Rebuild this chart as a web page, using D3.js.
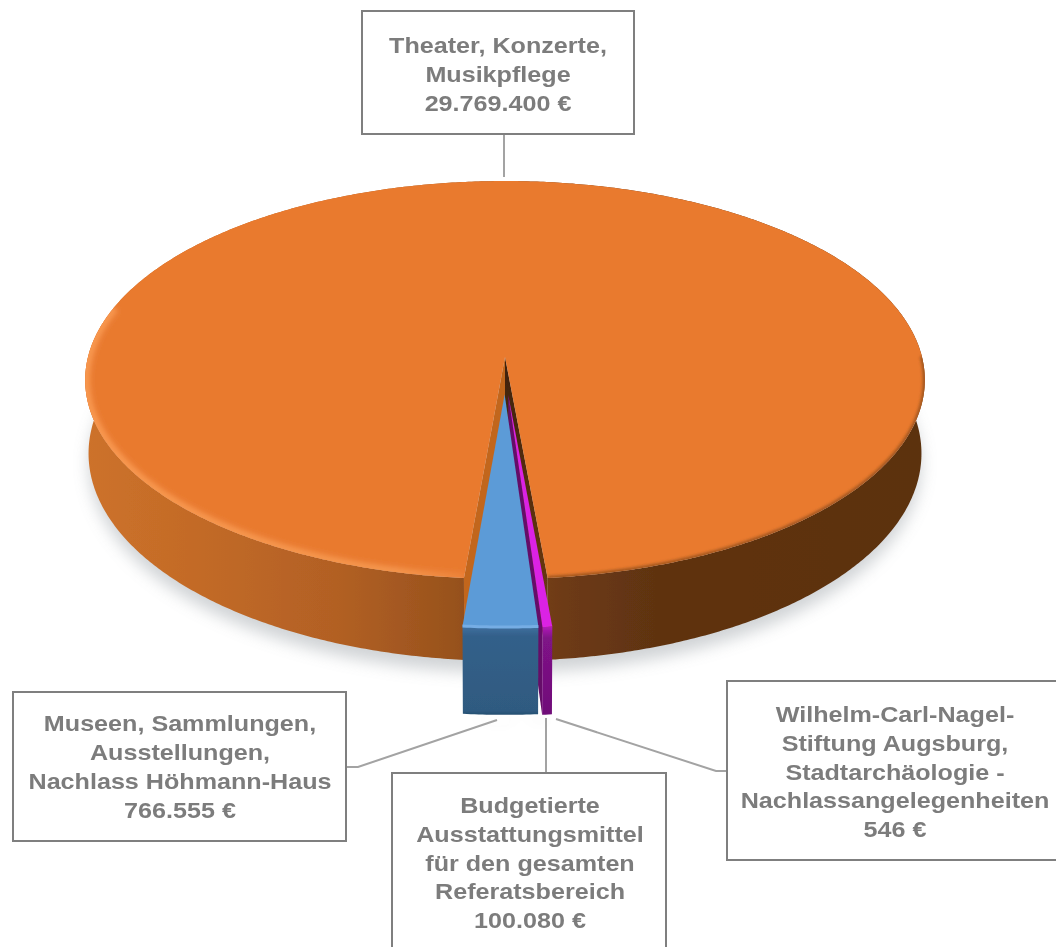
<!DOCTYPE html>
<html>
<head>
<meta charset="utf-8">
<script src="https://cdn.jsdelivr.net/npm/d3@7"></script>
<style>
html, body { margin: 0; padding: 0; background: #fff; overflow: hidden; }
text { font-family: "Liberation Sans", Arial, sans-serif; font-weight: bold; fill: #7c7c7c; }
</style>
</head>
<body>
<div id="chart-area"></div>
<script>
// slice order is clockwise, starting at the orange one
var categories = ['Theater', 'Wilhelm', 'Budget', 'Museen'];
var values = [29769400, 546, 100080, 766555];
var textTheater = ['Theater, Konzerte,', 'Musikpflege'];
var textWilhelm = ['Wilhelm-Carl-Nagel-', 'Stiftung Augsburg,', 'Stadtarchäologie -', 'Nachlassangelegenheiten'];
var textBudget = ['Budgetierte', 'Ausstattungsmittel', 'für den gesamten', 'Referatsbereich'];
var textMuseen = ['Museen, Sammlungen,', 'Ausstellungen,', 'Nachlass Höhmann-Haus'];

var def = {
    width: 1056,
    height: 947,
    cx: 505,
    cy: 357,
    R: 417,
    A: 196.3,
    k: 0.1155,      // perspective
    shrink: 0.008,  // underside is a bit narrower than the top
    depth: 72.5,
    start: 185,     // degrees, clockwise from the back of the pie
    textScale: 1.17,
    fontSize: 21.5
};

var svg = d3.select('#chart-area').append('svg')
    .attr('width', def.width)
    .attr('height', def.height)
    .style('display', 'block');
var defs = svg.append('defs');

function blur(id, sd) {
    defs.append('filter').attr('id', id)
        .attr('x', '-20%').attr('y', '-20%').attr('width', '140%').attr('height', '140%')
        .append('feGaussianBlur').attr('stdDeviation', sd);
}
blur('soft', 0.6);
blur('edge', 1.5);
blur('rim', 2.5);
blur('shadow', 8);
// straight lines and text need a filter region that does not depend on their own box
defs.append('filter').attr('id', 'ink')
    .attr('filterUnits', 'userSpaceOnUse')
    .attr('x', 0).attr('y', 0).attr('width', def.width).attr('height', def.height)
    .append('feGaussianBlur').attr('stdDeviation', 0.45);

function gradient(id, x1, y1, x2, y2, stops) {
    var g = defs.append('linearGradient').attr('id', id)
        .attr('gradientUnits', 'userSpaceOnUse')
        .attr('x1', x1).attr('y1', y1).attr('x2', x2).attr('y2', y2);
    stops.forEach(function (s) {
        g.append('stop').attr('offset', s[0]).attr('stop-color', s[1]).attr('stop-opacity', s[2] === undefined ? 1 : s[2]);
    });
}
gradient('wallOrange', 85, 0, 925, 0, [
    [0, '#cd722a'], [0.14, '#c26a27'], [0.3, '#b26024'], [0.44, '#98521d'], [0.56, '#6f3b14'], [0.68, '#5f3311'], [1, '#5c3110']
]);
gradient('wallBlue', 0, 627, 0, 718, [
    [0, '#3f6f9e'], [0.1, '#33608a'], [0.92, '#2f5a80'], [1, '#1c4463']
]);
gradient('wallPurple', 0, 627, 0, 718, [
    [0, '#b01cb8'], [0.12, '#7f1287'], [1, '#6f0f78']
]);
gradient('cutRight', 0, 360, 0, 600, [
    [0, '#3f220a'], [1, '#6a3812']
]);
gradient('bevel', 85, 0, 500, 0, [
    [0, '#f8974f'], [0.75, '#f5974f', 0.9], [1, '#f5974f', 0]
]);

var rad = Math.PI / 180;

// turn a pie angle + radius into screen coordinates, z = 1 is the underside
function project(a, r, o, z) {
    var u = o.u + r * Math.sin(a);
    var v = o.v - r * Math.cos(a);
    var s = 1 / (1 - def.k * v);
    return [def.cx + def.R * u * s * (1 - def.shrink * z), def.cy + def.A * v * s + def.depth * z * s];
}

function sweep(a0, a1, o, z) {
    var n = Math.max(2, Math.ceil(Math.abs(a1 - a0) / (0.5 * rad)));
    return d3.range(n + 1).map(function (i) {
        return project(a0 + (a1 - a0) * i / n, 1, o, z);
    });
}

var line = d3.line();
function closed(pts) { return line(pts) + 'Z'; }

var pie = d3.pie()
    .sort(null)
    .startAngle(def.start * rad)
    .endAngle((def.start + 360) * rad);
var slices = pie(values);

// how far each slice is pulled out towards the viewer, and how deep its wall looks
var explode = [0, 0.19, 0.19, 0.187];
var wallZ = [1, 1, 1.045, 1.045];

slices.forEach(function (d, i) {
    var mid = (d.startAngle + d.endAngle) / 2;
    var z = wallZ[i];
    d.o = { u: explode[i] * Math.sin(mid) * 0.5, v: -explode[i] * Math.cos(mid) };
    d.top = closed([project(0, 0, d.o, 0)].concat(sweep(d.startAngle, d.endAngle, d.o, 0)));
    d.wall = closed(sweep(d.startAngle, d.endAngle, d.o, 0).concat(sweep(d.endAngle, d.startAngle, d.o, z)));
    d.cutStart = closed([project(0, 0, d.o, 0), project(d.startAngle, 1, d.o, 0), project(d.startAngle, 1, d.o, z), project(0, 0, d.o, z)]);
    d.cutEnd = closed([project(0, 0, d.o, 0), project(d.endAngle, 1, d.o, 0), project(d.endAngle, 1, d.o, z), project(0, 0, d.o, z)]);
});

var orange = slices[0], purple = slices[2], blue = slices[3];

// ground shadow
var ground = svg.append('g').attr('filter', 'url(#shadow)').attr('opacity', 0.42);
ground.append('path').attr('d', closed(sweep(0, 2 * Math.PI, orange.o, 1.14))).attr('fill', '#8f969c');
ground.append('path').attr('d', closed(sweep(blue.startAngle, blue.endAngle, blue.o, 1.1).concat(sweep(purple.endAngle, purple.startAngle, purple.o, 1.1)))).attr('fill', '#7f868c');

var pieG = svg.append('g').attr('filter', 'url(#soft)');

// orange body
pieG.append('path').attr('d', orange.cutStart).attr('fill', '#c2661f');
pieG.append('path').attr('d', orange.cutEnd).attr('fill', 'url(#cutRight)');
pieG.append('path').attr('d', orange.wall).attr('fill', 'url(#wallOrange)');
pieG.append('path').attr('d', orange.top).attr('fill', '#e97a2f');

// edges of the top face, kept inside it by the clip
defs.append('clipPath').attr('id', 'topClip').append('path').attr('d', orange.top);
var rimG = pieG.append('g').attr('clip-path', 'url(#topClip)');

// blurred seam on the dark side
rimG.append('path')
    .attr('d', line(sweep(orange.endAngle - 85 * rad, orange.endAngle, orange.o, 0)))
    .attr('fill', 'none')
    .attr('stroke', '#8a4a1a')
    .attr('stroke-width', 4)
    .attr('stroke-opacity', 0.8)
    .attr('filter', 'url(#edge)');

// lit bevel on the left and front
rimG.append('path')
    .attr('d', line(sweep(orange.startAngle, orange.startAngle + 100 * rad, orange.o, 0)))
    .attr('fill', 'none')
    .attr('stroke', 'url(#bevel)')
    .attr('stroke-width', 10)
    .attr('filter', 'url(#rim)');

// purple goes first, the blue top hides the lower part of its cut face
pieG.append('path').attr('d', purple.cutEnd).attr('fill', '#651068');
pieG.append('path').attr('d', purple.wall).attr('fill', 'url(#wallPurple)');
pieG.append('path').attr('d', purple.top).attr('fill', '#db22e4');

pieG.append('path').attr('d', blue.wall).attr('fill', 'url(#wallBlue)');
pieG.append('path').attr('d', blue.top).attr('fill', '#5b9bd7');
pieG.append('path')
    .attr('d', line(sweep(blue.startAngle, blue.endAngle, blue.o, 0)))
    .attr('fill', 'none')
    .attr('stroke', '#76ade4')
    .attr('stroke-width', 3);

// leaders
var fmt = d3.formatLocale({ decimal: ',', thousands: '.', grouping: [3], currency: ['', ' €'] }).format(',d');
function euro(v) { return fmt(v) + ' €'; }

var ink = svg.append('g').attr('filter', 'url(#ink)');

var leaders = [
    [[504, 134], [504, 177]],
    [[346, 767], [358, 767], [497, 720]],
    [[546, 718], [546, 773]],
    [[556, 719], [716, 771], [727, 771]]
];
ink.append('g').selectAll('path').data(leaders).enter().append('path')
    .attr('d', function (d) { return line(d); })
    .attr('fill', 'none')
    .attr('stroke', '#a3a3a3')
    .attr('stroke-width', 2);

// label boxes
var boxes = [
    { x: 362, y: 11, w: 272, h: 123, tx: 498, ty: 52.5, step: 29, lines: textTheater, value: values[0] },
    { x: 13, y: 692, w: 333, h: 149, tx: 180, ty: 731, step: 29, lines: textMuseen, value: values[3] },
    { x: 392, y: 773, w: 274, h: 190, tx: 530, ty: 813, step: 28.8, lines: textBudget, value: values[2] },
    { x: 727, y: 681, w: 345, h: 179, tx: 895, ty: 722, step: 28.8, lines: textWilhelm, value: values[1] }
];
var box = ink.append('g').selectAll('g').data(boxes).enter().append('g');
box.append('rect')
    .attr('x', function (d) { return d.x; })
    .attr('y', function (d) { return d.y; })
    .attr('width', function (d) { return d.w; })
    .attr('height', function (d) { return d.h; })
    .attr('fill', '#fff')
    .attr('stroke', '#7f7f7f')
    .attr('stroke-width', 2);

box.each(function (d) {
    var rows = d.lines.concat([euro(d.value)]);
    d3.select(this).selectAll('text').data(rows).enter().append('text')
        .attr('transform', function (t, i) {
            return 'translate(' + d.tx + ',' + (d.ty + i * d.step) + ') scale(' + def.textScale + ',1)';
        })
        .attr('text-anchor', 'middle')
        .attr('font-size', def.fontSize + 'px')
        .text(function (t) { return t; });
});
</script>
</body>
</html>
